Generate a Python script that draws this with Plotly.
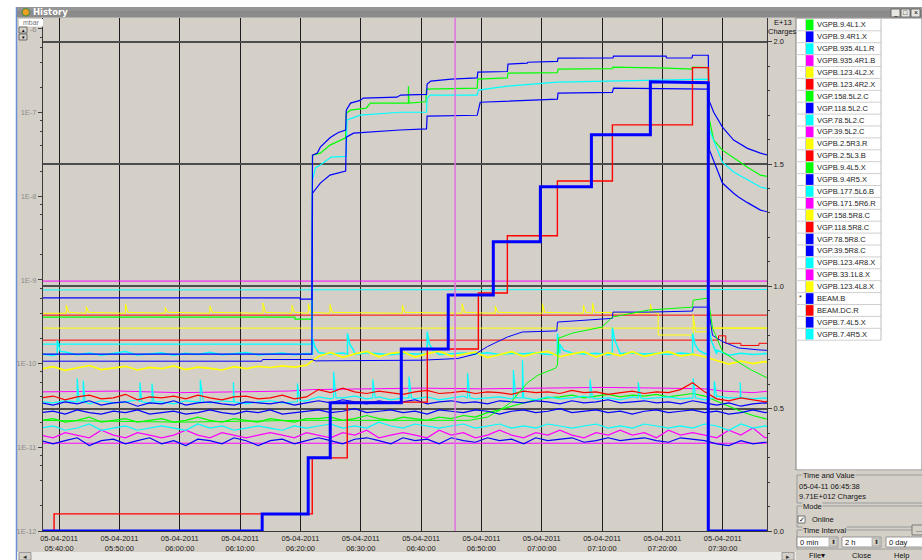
import pandas as pd
import plotly.graph_objects as go

# ---------------- data ----------------
BASE = pd.Timestamp("2011-04-05 05:40:00")       # minutes below are counted from 05:40:00
X_RANGE = ["2011-04-05 05:37:20", "2011-04-05 07:37:20"]
CURSOR_TIME = "2011-04-05 06:45:38"
UNIT = 1e-11                                       # gauge readings are in units of 1E-11 mbar

TICK_TIMES = ["05:40:00", "05:50:00", "06:00:00", "06:10:00", "06:20:00", "06:30:00",
              "06:40:00", "06:50:00", "07:00:00", "07:10:00", "07:20:00", "07:30:00"]
TICK_DATE = "05-04-2011"
LEFT_TICKS = [1e-12, 1e-11, 1e-10, 1e-9, 1e-8, 1e-7, 1e-6]
LEFT_LABELS = ["1E-12", "1E-11", "1E-10", "1E-9", "1E-8", "1E-7", "-6"]
RIGHT_TICKS = [0.0, 0.5, 1.0, 1.5, 2.0]
RIGHT_LABELS = ["0.0", "0.5", "1.0", "1.5", "2.0"]

LEGEND_NAMES = ["VGPB.9.4L1.X", "VGPB.9.4R1.X", "VGPB.935.4L1.R", "VGPB.935.4R1.B", "VGPB.123.4L2.X",
                "VGPB.123.4R2.X", "VGP.158.5L2.C", "VGP.118.5L2.C", "VGP.78.5L2.C", "VGP.39.5L2.C",
                "VGPB.2.5R3.R", "VGPB.2.5L3.B", "VGPB.9.4L5.X", "VGPB.9.4R5.X", "VGPB.177.5L6.B",
                "VGPB.171.5R6.R", "VGP.158.5R8.C", "VGP.118.5R8.C", "VGP.78.5R8.C", "VGP.39.5R8.C",
                "VGPB.123.4R8.X", "VGPB.33.1L8.X", "VGPB.123.4L8.X", "BEAM.B", "BEAM.DC.R",
                "VGPB.7.4L5.X", "VGPB.7.4R5.X"]
G, B, C, M, Y, R = "#00ff00", "#0000ff", "#00ffff", "#ff00ff", "#ffff00", "#ff0000"
LEGEND_COLORS = [G, B, C, M, Y, R, G, B, C, M, Y, R, G, B, C, M, Y, R, B, B, C, M, Y, B, R, B, C]

# time grid (minutes after 05:40) of the noisy low-pressure gauges
NOISE_MIN = [-3 + 2 * k for k in range(62)]

VGPB_123_4R2_X = [3.9, 4.1, 3.7, 4.0, 4.2, 3.8, 3.9, 4.3, 3.7, 4.0,
                  3.9, 4.1, 3.8, 4.2, 3.9, 3.7, 4.0, 4.1, 3.8, 3.9,
                  4.2, 3.8, 4.0, 4.9, 4.5, 5.1, 4.6, 4.4, 4.7, 4.5,
                  4.3, 4.6, 4.8, 4.4, 4.5, 4.7, 4.4, 4.6, 4.5, 4.3,
                  4.7, 4.5, 4.6, 4.4, 4.8, 4.5, 4.6, 4.3, 4.5, 4.7,
                  4.4, 4.6, 4.5, 4.9, 5.9, 4.6, 3.8, 3.6, 3.9, 3.7,
                  3.5, 3.8]
VGPB_177_5L6_B = [3.5, 3.4, 3.6, 3.5, 3.3, 3.6, 3.4, 3.5, 3.7, 3.4,
                  3.5, 3.3, 3.6, 3.5, 3.4, 3.6, 3.5, 3.3, 3.5, 3.6,
                  3.4, 3.5, 3.6, 4.0, 3.8, 3.9, 4.1, 3.8, 4.0, 3.7,
                  3.9, 3.8, 4.0, 3.7, 3.9, 4.1, 3.8, 3.9, 4.0, 3.8,
                  3.9, 3.7, 4.0, 3.8, 3.9, 4.1, 3.8, 3.9, 3.7, 4.0,
                  3.8, 3.9, 4.0, 3.8, 3.9, 3.7, 4.1, 3.9, 4.0, 3.8,
                  3.9, 3.7]
VGPB_177_5L6_B_SPIKES = [(3.0, 3.5), (3.0, 6.7), (3.3, 3.6), (4.0, 3.5), (4.0, 6.3), (4.3, 3.5),
                         (13.4, 3.5), (13.4, 6.0), (13.7, 3.5), (15.4, 3.5), (15.4, 5.8), (15.7, 3.5),
                         (23.4, 3.5), (23.4, 6.4), (23.9, 3.5), (28.9, 3.5), (28.9, 6.0), (29.2, 3.5),
                         (39.5, 3.5), (39.5, 5.8), (39.9, 3.6), (45.5, 3.9), (45.5, 8.0), (45.9, 3.9),
                         (52.0, 3.9), (52.0, 6.5), (52.4, 3.9), (58.0, 3.9), (58.0, 7.0), (58.4, 3.9),
                         (67.7, 3.9), (67.7, 7.7), (68.1, 3.9), (75.3, 3.9), (75.3, 8.4), (75.7, 3.9),
                         (76.8, 3.9), (76.8, 11.0), (77.2, 3.9), (88.0, 3.9), (88.0, 6.5), (88.4, 3.9),
                         (96.0, 3.9), (96.0, 6.0), (96.4, 3.9), (105.1, 3.9), (105.1, 6.7), (105.5, 3.9),
                         (108.6, 3.9), (108.6, 6.2), (109.0, 3.9), (112.9, 3.9), (112.9, 6.0), (113.3, 3.9)]
VGPB_9_4R5_X = [3.4, 3.2, 3.5, 3.3, 3.6, 3.2, 3.4, 3.5, 3.1, 3.4,
                3.3, 3.6, 3.2, 3.4, 3.5, 3.3, 3.2, 3.5, 3.4, 3.3,
                3.5, 3.2, 3.4, 3.6, 3.4, 3.7, 3.5, 3.3, 3.6, 3.4,
                3.5, 3.7, 3.3, 3.5, 3.6, 3.4, 3.5, 3.3, 3.6, 3.5,
                3.4, 3.6, 3.5, 3.3, 3.6, 3.4, 3.5, 3.7, 3.4, 3.5,
                3.6, 3.4, 3.5, 3.3, 3.6, 3.4, 3.2, 3.4, 3.1, 3.3,
                3.4, 3.2]
VGP_39_5R8_C = [2.6, 2.7, 2.5, 2.8, 2.6, 2.5, 2.7, 2.6, 2.8, 2.5,
                2.6, 2.7, 2.5, 2.6, 2.8, 2.6, 2.5, 2.7, 2.6, 2.8,
                2.5, 2.6, 2.7, 2.8, 2.6, 2.7, 2.9, 2.6, 2.7, 2.8,
                2.6, 2.7, 2.5, 2.8, 2.7, 2.6, 2.8, 2.7, 2.5, 2.7,
                2.8, 2.6, 2.7, 2.9, 2.6, 2.7, 2.8, 2.6, 2.7, 2.5,
                2.7, 2.8, 2.6, 2.7, 2.8, 2.6, 2.7, 2.5, 2.6, 2.8,
                2.6, 2.7]
VGPB_9_4L5_X = [2.1, 2.2, 2.0, 2.1, 2.3, 2.0, 2.1, 2.2, 2.0, 2.1,
                2.2, 2.0, 2.1, 2.3, 2.1, 2.0, 2.2, 2.1, 2.0, 2.2,
                2.1, 2.0, 2.2, 2.2, 2.3, 2.1, 2.2, 2.4, 2.2, 2.1,
                2.3, 2.2, 2.1, 2.3, 2.2, 2.4, 2.3, 2.6, 2.8, 3.1,
                3.4, 3.7, 3.9, 4.0, 4.2, 3.9, 4.1, 4.3, 4.0, 4.2,
                4.1, 4.3, 4.0, 4.2, 4.4, 4.1, 3.6, 3.1, 2.7, 2.4,
                2.2, 2.1]
VGP_78_5L2_C = [1.7, 1.8, 1.6, 1.7, 1.9, 1.6, 1.7, 1.8, 1.6, 1.7,
                1.8, 1.7, 1.6, 1.9, 1.7, 1.8, 1.6, 1.7, 1.8, 1.7,
                1.6, 1.8, 1.7, 1.8, 1.9, 1.7, 1.8, 1.7, 2.0, 1.8,
                1.7, 1.9, 1.8, 1.7, 1.8, 1.9, 1.7, 1.8, 1.9, 1.7,
                1.8, 1.7, 1.9, 1.8, 1.7, 1.8, 1.9, 1.7, 1.8, 1.7,
                1.9, 1.8, 1.7, 1.8, 1.7, 1.9, 1.8, 1.6, 1.9, 1.7,
                1.8, 1.7]
VGPB_171_5R6_R = [1.4, 1.3, 1.5, 1.4, 1.3, 1.6, 1.4, 1.3, 1.5, 1.4,
                  1.3, 1.4, 1.6, 1.4, 1.3, 1.5, 1.4, 1.3, 1.4, 1.5,
                  1.4, 1.3, 1.5, 1.4, 1.3, 1.5, 1.4, 1.6, 1.3, 1.4,
                  1.5, 1.4, 1.3, 1.6, 1.4, 1.5, 1.3, 1.4, 1.6, 1.4,
                  1.3, 1.5, 1.4, 1.6, 1.4, 1.3, 1.5, 1.4, 1.6, 1.4,
                  1.5, 1.3, 1.6, 1.4, 1.5, 1.4, 1.3, 1.6, 1.4, 1.7,
                  1.3, 1.4]
VGPB_7_4L5_X = [1.2, 1.1, 1.2, 1.3, 1.05, 1.2, 1.25, 1.1, 1.2, 1.3,
                1.1, 1.2, 1.05, 1.25, 1.2, 1.1, 1.3, 1.2, 1.05, 1.2,
                1.25, 1.1, 1.2, 1.3, 1.2, 1.1, 1.25, 1.3, 1.2, 1.1,
                1.3, 1.2, 1.25, 1.1, 1.3, 1.2, 1.15, 1.3, 1.2, 1.25,
                1.1, 1.3, 1.2, 1.25, 1.3, 1.15, 1.2, 1.3, 1.2, 1.25,
                1.3, 1.2, 1.15, 1.3, 1.25, 1.2, 1.1, 1.05, 1.2, 1.1,
                1.15, 1.2]
VGPB_7_4R5_X = [13.0, 12.5, 13.8, 12.8, 13.4, 12.6, 13.2, 14.0, 12.7, 13.1,
                13.5, 12.6, 13.3, 12.9, 13.7, 12.8, 13.2, 13.6, 12.7, 13.1,
                13.4, 12.8, 13.2, 13.6, 13.0, 13.4, 12.9, 13.5, 13.1, 12.8,
                13.3, 13.0, 13.6, 12.9, 13.2, 13.4, 13.0, 13.5, 12.9, 13.3,
                13.1, 13.5, 12.9, 13.2, 13.4, 13.0, 13.3, 12.8, 13.2, 13.5,
                13.0, 13.3, 12.9, 13.4, 13.1, 13.2, 13.0, 12.6, 13.3, 12.9,
                13.2, 13.0]
VGPB_7_4R5_X_SPIKES = [(-0.3, 13), (-0.3, 19), (0.2, 14), (42.0, 13), (42.0, 20), (42.4, 16), (42.9, 14),
                       (47.8, 13), (47.8, 23), (48.2, 17), (48.8, 14.5), (61.0, 13), (61.0, 24), (61.4, 17),
                       (62.0, 14.5), (82.6, 13), (82.6, 23), (83.0, 17), (83.6, 14.5), (91.7, 13), (91.7, 27),
                       (92.1, 19), (92.7, 15), (105.0, 13), (105.0, 23), (105.4, 17), (106.0, 14.5),
                       (107.7, 13), (107.7, 26), (108.2, 18), (109.0, 14.5)]
VGPB_2_5R3_R = [8.6, 9.2, 8.3, 8.9, 9.5, 8.5, 8.8, 9.3, 8.4, 9.0,
                8.7, 9.4, 8.5, 9.1, 8.8, 8.4, 9.2, 8.7, 9.3, 9.0,
                9.4, 9.1, 9.6, 12.2, 13.6, 11.9, 13.1, 14.0, 12.1, 13.3,
                13.8, 12.0, 13.2, 14.1, 12.3, 13.0, 13.7, 11.8, 12.9, 13.9,
                12.2, 13.4, 14.0, 12.1, 13.1, 13.8, 12.0, 13.5, 12.4, 13.9,
                12.2, 13.2, 13.9, 12.3, 13.0, 12.1, 10.9, 9.9, 10.7, 10.0,
                10.6, 10.2]

# irregular series: (minutes after 05:40, reading in 1E-11 mbar)
VGP_39_5L2_C = [(-3, 1.12), (60, 1.12), (119, 1.12)]
VGPB_935_4R1_B = [(-3, 4.6), (10, 4.7), (20, 4.5), (30, 4.6), (38, 4.7), (42, 4.9), (50, 5.0), (60, 5.1),
                  (70, 5.0), (80, 5.1), (90, 5.2), (100, 5.1), (107, 5.0), (110, 4.7), (115, 4.5), (119, 4.8)]
VGPB_33_1L8_X = [(-3, 97), (40, 97), (80, 98), (119, 97)]
VGPB_123_4R8_X = [(-3, 76), (30, 76), (42, 77), (119, 77)]
VGP_118_5R8_C = [(-3, 19.1), (109.3, 19.1), (109.3, 21.5), (110.5, 21.5), (110.5, 17.5), (113, 17.5),
                 (113, 16.5), (116, 16.5), (116, 17.5), (119, 17.5)]
VGP_158_5R8_C = [(-3, 26.6), (60, 26.6), (119, 26.6)]
VGPB_2_5L3_B = [(-3, 38), (60, 38), (119, 38)]
VGPB_123_4L2_X = [(-3, 40), (1.2, 40), (1.2, 50), (1.6, 41), (4.5, 40), (4.5, 48), (4.9, 41), (11, 40),
                  (11, 52), (11.4, 41), (17.6, 40), (17.6, 47), (18.0, 41), (25, 40), (25, 49), (25.4, 41),
                  (33.8, 40), (33.8, 53), (34.2, 41), (38.6, 40), (38.6, 50), (39.0, 41), (41.3, 40),
                  (41.3, 52), (41.7, 41), (44.9, 40), (44.9, 51), (45.3, 41), (56.9, 40), (56.9, 50),
                  (57.3, 41), (66.8, 40), (66.8, 52), (67.2, 41), (72.3, 40), (72.3, 49), (72.7, 41),
                  (80.1, 40), (80.1, 52), (80.5, 41), (86.9, 40), (86.9, 50), (87.3, 41), (88.4, 40),
                  (88.4, 53), (88.8, 41), (98, 40), (98, 51), (98.4, 41), (99.3, 40), (99.3, 22),
                  (105.1, 22), (105.1, 38), (105.5, 24), (107.6, 24), (107.6, 26.6), (119, 26.6)]
VGPB_9_4L1_X = [(-3, 36), (39.1, 36), (39.1, 34), (41.9, 34), (42.0, 3100), (43.3, 3280), (44.9, 4090),
                (46.6, 4700), (47.5, 5000), (47.6, 9850), (48.3, 10700), (50.9, 11300), (51.6, 13000),
                (57.9, 13000), (57.9, 20700), (58.0, 13000), (60.8, 13500), (60.9, 19100), (69.3, 19600),
                (69.4, 25100), (74.3, 26000), (74.4, 29600), (82.6, 30000), (82.7, 33100), (91.7, 33500),
                (91.8, 35000), (100.7, 34000), (104.9, 33100), (105.0, 35000), (107.6, 34500),
                (107.8, 8130), (108.5, 4700), (109.95, 3560), (111.8, 2860), (114.1, 2230),
                (116.25, 1790), (119, 1650)]
VGPB_935_4L1_R = [(-3, 17.1), (41.9, 17.1), (42.0, 1560), (42.5, 2200), (43.3, 2360), (45.1, 2940),
                  (47.6, 3000), (47.7, 8130), (49.9, 9330), (56.5, 10100), (60.9, 10100), (61.0, 14900),
                  (61.5, 16200), (69.3, 16200), (69.5, 18600), (74.3, 20700), (82.6, 23100),
                  (91.7, 23800), (105.1, 25100), (107.6, 25100), (107.8, 6200), (109.95, 2560),
                  (111.8, 1950), (114.1, 1560), (116.25, 1290), (119, 1150)]
VGP_118_5L2_C = [(-3, 13), (41.9, 13), (42.0, 1090), (43.3, 1440), (44.9, 1790), (46.6, 1950), (47.5, 2000),
                 (47.6, 5090), (48.8, 5690), (56.5, 6200), (60.9, 6400), (61.0, 9080), (69.3, 9300),
                 (69.8, 13300), (74.3, 13700), (82.6, 14500), (82.7, 17100), (91.7, 17500), (91.9, 19600),
                 (107.6, 19100), (107.8, 3560), (109.95, 1440), (111.8, 1090), (112.6, 980), (114.1, 840),
                 (116.25, 684), (119, 610)]
VGPB_9_4R1_X = [(-3, 61), (39.97, 61), (39.97, 59), (41.9, 59), (42.0, 3100), (42.8, 3300), (43.3, 3870),
                (44.1, 4400), (44.9, 5000), (45.6, 5400), (46.3, 5800), (47.5, 6200), (47.6, 10700),
                (48.3, 13000), (49.9, 14000), (50.4, 14900), (56.0, 15300), (56.6, 16200), (60.9, 16500),
                (61.0, 21900), (61.6, 23800), (65.0, 25100), (69.3, 26000), (69.4, 30500), (74.3, 31000),
                (74.4, 38000), (77.6, 39000), (77.7, 40000), (82.6, 41000), (82.7, 44700), (91.8, 45000),
                (91.9, 47300), (100.6, 47300), (100.7, 45000), (104.9, 45000), (105.0, 48500),
                (107.6, 48500), (107.7, 14100), (108.5, 10100), (109.95, 6710), (111.8, 4700),
                (114.1, 3740), (116.25, 3280), (119, 2900)]
VGP_158_5L2_C = [(-3, 2.1), (20, 2.0), (40, 2.1), (60, 2.1), (68, 2.1), (71.0, 2.3), (73.1, 2.8), (74.8, 3.4),
                 (76.8, 5.1), (77.6, 5.9), (79.4, 7.3), (80.3, 7.7), (82.3, 8.85), (82.6, 9.6), (82.8, 20.2),
                 (85.1, 23.2), (88.1, 26), (90.0, 27.4), (91.7, 36), (94.7, 40), (97.7, 43.7), (101.3, 45.5),
                 (105.0, 47.4), (105.1, 57.5), (107.1, 60.8), (107.6, 60.8), (108.3, 26.6), (110.0, 13.8),
                 (112.6, 10.4), (114.6, 8.5), (117.1, 6.9), (119, 6.5)]
VGP_78_5R8_C = [(-3, 10.7), (33.6, 10.7), (33.7, 11.2), (41.9, 11.2), (42.5, 10.8), (60, 11.0), (66, 11.5),
                (69, 13), (71, 16), (74.3, 20.8), (76.8, 23.9), (82.5, 24.6), (82.6, 31.4), (90, 34.5),
                (91.7, 34.8), (91.8, 41.3), (97.7, 41.3), (105, 42.5), (105.1, 47.4), (107.6, 47.4),
                (108.3, 21.8), (110, 18.3), (112.6, 15.4), (116, 14.6), (119, 14.2)]

# beam intensity, right axis (E+13 charges)
BEAM_DC_R = [(-3, 0), (-0.83, 0), (-0.83, 0.070), (41.96, 0.070), (41.96, 0.299), (47.76, 0.299),
             (47.76, 0.527), (61.03, 0.527), (61.03, 0.744), (69.49, 0.744), (69.49, 0.973), (74.3, 0.973),
             (74.3, 1.207), (82.59, 1.207), (82.59, 1.431), (91.71, 1.431), (91.71, 1.660), (104.98, 1.660),
             (104.98, 1.894), (107.63, 1.894), (107.63, 0), (119, 0)]
BEAM_B = [(-3, 0), (33.66, 0), (33.66, 0.070), (41.29, 0.070), (41.29, 0.299), (44.94, 0.299),
          (44.94, 0.524), (56.72, 0.524), (56.72, 0.744), (64.5, 0.744), (64.5, 0.965), (71.97, 0.965),
          (71.97, 1.182), (79.77, 1.182), (79.77, 1.407), (88.23, 1.407), (88.23, 1.620), (98.0, 1.620),
          (98.0, 1.836), (107.6, 1.832), (107.6, 0.0), (119, 0.0)]

# ---------------- figure ----------------
COLOR = dict(zip(LEGEND_NAMES, LEGEND_COLORS))
FONT = "Liberation Sans, Arial, sans-serif"
fig = go.Figure()


def to_time(mins):
    return BASE + pd.to_timedelta(list(mins), unit="min")


def gauge(name, pts, width=1.0):
    t, v = zip(*pts)
    fig.add_trace(go.Scatter(x=to_time(t), y=[u * UNIT for u in v], mode="lines", name=name,
                             line=dict(color=COLOR[name], width=width), hoverinfo="skip"))


def grid_series(vals, spikes=()):
    return sorted(list(zip(NOISE_MIN, vals)) + list(spikes))


def beam(name, pts, width):
    t, v = zip(*pts)
    fig.add_trace(go.Scatter(x=to_time(t), y=list(v), mode="lines", name=name, yaxis="y2",
                             line=dict(color=COLOR[name], width=width), hoverinfo="skip"))


gauge("VGP.39.5L2.C", VGP_39_5L2_C)
gauge("VGPB.935.4R1.B", VGPB_935_4R1_B)
gauge("VGPB.171.5R6.R", grid_series(VGPB_171_5R6_R), 1.2)
gauge("VGP.78.5L2.C", grid_series(VGP_78_5L2_C), 1.2)
gauge("VGPB.9.4L5.X", grid_series(VGPB_9_4L5_X), 1.2)
gauge("VGPB.7.4L5.X", grid_series(VGPB_7_4L5_X), 1.2)
gauge("VGP.39.5R8.C", grid_series(VGP_39_5R8_C), 1.2)
gauge("VGPB.177.5L6.B", grid_series(VGPB_177_5L6_B, VGPB_177_5L6_B_SPIKES), 1.2)
gauge("VGPB.9.4R5.X", grid_series(VGPB_9_4R5_X), 1.2)
gauge("VGPB.123.4R2.X", grid_series(VGPB_123_4R2_X), 1.2)
gauge("VGPB.33.1L8.X", VGPB_33_1L8_X)
gauge("VGPB.123.4R8.X", VGPB_123_4R8_X)
gauge("VGP.118.5R8.C", VGP_118_5R8_C)
gauge("VGP.158.5R8.C", VGP_158_5R8_C)
gauge("VGPB.2.5L3.B", VGPB_2_5L3_B)
gauge("VGPB.123.4L2.X", VGPB_123_4L2_X)
gauge("VGPB.7.4R5.X", grid_series(VGPB_7_4R5_X, VGPB_7_4R5_X_SPIKES), 1.5)
gauge("VGPB.2.5R3.R", grid_series(VGPB_2_5R3_R), 1.7)
gauge("VGP.78.5R8.C", VGP_78_5R8_C)
gauge("VGP.158.5L2.C", VGP_158_5L2_C)
gauge("VGPB.9.4L1.X", VGPB_9_4L1_X, 1.2)
gauge("VGPB.935.4L1.R", VGPB_935_4L1_R, 1.2)
gauge("VGP.118.5L2.C", VGP_118_5L2_C, 1.2)
gauge("VGPB.9.4R1.X", VGPB_9_4R1_X, 1.2)
beam("BEAM.DC.R", BEAM_DC_R, 1.4)
beam("BEAM.B", BEAM_B, 3)

# ---------------- decorations (pixel helpers) ----------------
PL, PR, PT, PB = 43, 767, 18, 531


def fx(x):
    return (x - PL) / (PR - PL)


def fy(y):
    return (PB - y) / (PB - PT)


shapes, annots = [], []


def rect(x0, y0, x1, y1, fill=None, line=None, lw=1.0):
    shapes.append(dict(type="rect", xref="paper", yref="paper", x0=fx(x0), x1=fx(x1), y0=fy(y1), y1=fy(y0),
                       fillcolor=fill or "rgba(0,0,0,0)", layer="above",
                       line=dict(color=line or "rgba(0,0,0,0)", width=lw if line else 0)))


def seg(x0, y0, x1, y1, color, lw=1.0):
    shapes.append(dict(type="line", xref="paper", yref="paper", x0=fx(x0), x1=fx(x1), y0=fy(y0), y1=fy(y1),
                       layer="above", line=dict(color=color, width=lw)))


def text(x, y, s, size=7.5, color="#111111", anchor="left", bold=False, bg=None, family=FONT):
    a = dict(xref="paper", yref="paper", x=fx(x), y=fy(y), text=("<b>%s</b>" % s) if bold else s,
             showarrow=False, xanchor=anchor, yanchor="middle", borderpad=0,
             font=dict(size=size, color=color, family=family))
    if bg:
        a["bgcolor"] = bg
    annots.append(a)


GRAY = "#d4d0c8"
# window frame
rect(0, 0, 16.5, 560, fill="#ffffff")
rect(0, 0, 922, 7, fill="#ffffff")
seg(16.5, 7, 16.5, 560, "#6b8fd6", 1.5)
rect(17, 7, 922, 17.6, fill="#8b8b8b")
rect(17, 7, 922, 10.5, fill="#969696")
shapes.append(dict(type="circle", xref="paper", yref="paper", x0=fx(22), x1=fx(29.5), y0=fy(16), y1=fy(8.5),
                   fillcolor="#f0a020", line=dict(color="#3a8a3a", width=1), layer="above"))
text(32, 12.4, "History", size=8.5, color="#ffffff", bold=True, family="DejaVu Sans, sans-serif")
for bx, glyph in [(891, "_"), (901, "□"), (911, "×")]:
    rect(bx, 9, bx + 9, 17, fill="#e8e6e0", line="#555555", lw=0.8)
    text(bx + 4.5, 13, glyph, size=7, anchor="center", color="#000000")

# left axis unit box and arrow buttons
rect(19, 19, 43, 26.5, fill="#ffffff")
text(31, 22.8, "mbar", size=7, color="#777777", anchor="center")
rect(19, 27, 27, 33, fill=GRAY, line="#555555", lw=0.8)
rect(19, 34, 27, 40, fill=GRAY, line="#555555", lw=0.8)
text(23, 30.2, "▲", size=4.5, anchor="center", color="#000000")
text(23, 37, "▼", size=4.5, anchor="center", color="#000000")

# right axis unit
text(783, 22.5, "E+13", size=7.5, anchor="center")
text(782, 31, "Charges", size=7.5, anchor="center")

# legend list control
rect(796, 18, 922, 470, fill="#ffffff", line="#808080", lw=1)
ROW0, ROWH = 18.9, 11.9
n = len(LEGEND_NAMES)
for i, (name, col) in enumerate(zip(LEGEND_NAMES, LEGEND_COLORS)):
    top = ROW0 + ROWH * i
    rect(806, top + 0.6, 813.5, top + ROWH - 0.6, fill=col)
    seg(796, top + ROWH, 881, top + ROWH, "#cfcfcf", 1)
    text(816, top + ROWH / 2, name, size=7.5, color="#222222")
    if name == "BEAM.B":
        text(800.5, top + ROWH / 2 - 1, "*", size=7, anchor="center")
seg(805.5, ROW0, 805.5, ROW0 + ROWH * n, "#cfcfcf", 1)
seg(881, ROW0, 881, ROW0 + ROWH * n, "#bdbdbd", 1)

# bottom right panel
rect(796, 470.5, 922, 560, fill=GRAY)
for y0, y1, title in [(475, 503, "Time and Value"), (506, 527, "Mode"), (530, 549, "Time Interval")]:
    rect(797, y0, 940, y1, line="#9a9a9a", lw=1)
    text(802, y0, title, size=7.5, bg=GRAY)
text(798, 486, "05-04-11 06:45:38", size=7.5)
text(798, 496.5, "9.71E+012 Charges", size=7.5)
rect(798, 516, 805, 523, fill="#ffffff", line="#555555", lw=0.8)
text(801.5, 519.5, "✓", size=7, anchor="center", color="#000000")
text(811, 519.5, "Online", size=7.5)
rect(912, 525, 925, 535, fill=GRAY, line="#666666", lw=0.8)
text(918.5, 529, "...", size=7, anchor="center")
for x0, x1, label in [(797, 838, "0 min"), (842, 881, "2 h"), (886, 925, "0 day")]:
    rect(x0, 537, x1, 547, fill="#ffffff", line="#808080", lw=0.8)
    text(x0 + 2, 542, label, size=7.5)
    if x1 < 922:
        rect(x1 - 9, 538, x1 - 1, 546, fill=GRAY, line="#909090", lw=0.6)
        text(x1 - 5, 542, "⬍", size=6, anchor="center", color="#333333")
text(817, 555.5, "File▾", size=7.5, anchor="center")
text(861, 555.5, "Close", size=7.5, anchor="center")
text(901, 555.5, "Help", size=7.5, anchor="center")

# scrollbar
rect(17, 552, 796, 560, fill="#eceae6")
rect(19, 552.5, 31, 560, fill=GRAY, line="#8a8a8a", lw=0.8)
text(25, 556.3, "◂", size=7, anchor="center", color="#333333")
rect(782, 552.5, 794, 560, fill=GRAY, line="#8a8a8a", lw=0.8)
text(788, 556.3, "▸", size=7, anchor="center", color="#333333")

# cursor
shapes.append(dict(type="line", xref="x", yref="paper", x0=CURSOR_TIME, x1=CURSOR_TIME, y0=0, y1=1,
                   line=dict(color="#e070e0", width=1.5), layer="above"))

left_minor = [m * d for d in LEFT_TICKS[:-1] for m in (2, 4, 6, 8)]
fig.update_layout(
    width=922, height=560, margin=dict(l=PL, r=922 - PR, t=PT, b=560 - PB, pad=0, autoexpand=False),
    paper_bgcolor=GRAY, plot_bgcolor=GRAY, showlegend=False, hovermode=False,
    font=dict(family=FONT, size=7.5, color="#1a1a1a"),
    xaxis=dict(type="date", range=X_RANGE, tickmode="array", automargin=False,
               tickvals=["2011-04-05 " + t for t in TICK_TIMES],
               ticktext=[TICK_DATE + "<br>" + t for t in TICK_TIMES],
               showgrid=True, gridcolor="#1c1c1c", gridwidth=1.3, ticks="", showline=True,
               linecolor="#3a3a3a", linewidth=1, zeroline=False, tickfont=dict(size=7.5, color="#202020")),
    yaxis=dict(type="log", range=[-12, -5.869], tickmode="array", tickvals=LEFT_TICKS, ticktext=LEFT_LABELS,
               automargin=False, ticks="outside", ticklen=4, tickcolor="#404040", showgrid=False, zeroline=False,
               showline=True, linecolor="#3a3a3a", linewidth=1, tickfont=dict(size=7.5, color="#8c8c8c"),
               minor=dict(tickvals=left_minor, ticks="outside", ticklen=2, tickcolor="#404040", showgrid=False)),
    yaxis2=dict(overlaying="y", side="right", range=[0, 2.097], tickmode="array", tickvals=RIGHT_TICKS,
                ticktext=RIGHT_LABELS, automargin=False, ticks="outside", ticklen=4, tickcolor="#404040",
                showgrid=True, gridcolor="#4d4d4d", gridwidth=1.8, zeroline=False, showline=True,
                linecolor="#3a3a3a", linewidth=1, tickfont=dict(size=7.5, color="#202020"),
                minor=dict(dtick=0.1, ticks="outside", ticklen=2, tickcolor="#404040", showgrid=False)),
    shapes=shapes, annotations=annots,
)

fig.write_html("out.html", config={"displayModeBar": False})
